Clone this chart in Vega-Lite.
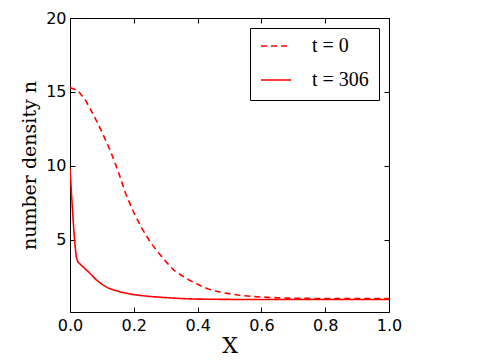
{
  "$schema": "https://vega.github.io/schema/vega-lite/v6.json",
  "autosize": "none",
  "padding": {"left": 70, "top": 18, "right": 91, "bottom": 48},
  "width": 319,
  "height": 294,
  "config": {
    "view": {"stroke": "black", "strokeWidth": 1},
    "axis": {"grid": false, "domain": false, "labelFlush": false, "tickColor": "black", "labelColor": "black", "labelFont": "DejaVu Sans", "labelFontSize": 16, "tickSize": -5, "titleColor": "black", "titleFont": "DejaVu Serif", "titleFontWeight": "normal"}
  },
  "data": {"values": [
    {"x": 0, "n": 15.3, "s": "t = 0"},
    {"x": 0.025, "n": 15.1, "s": "t = 0"},
    {"x": 0.05, "n": 14.4, "s": "t = 0"},
    {"x": 0.075, "n": 13.4, "s": "t = 0"},
    {"x": 0.1, "n": 12.3, "s": "t = 0"},
    {"x": 0.125, "n": 11.1, "s": "t = 0"},
    {"x": 0.15, "n": 9.7, "s": "t = 0"},
    {"x": 0.175, "n": 8.1, "s": "t = 0"},
    {"x": 0.2, "n": 6.85, "s": "t = 0"},
    {"x": 0.225, "n": 5.8, "s": "t = 0"},
    {"x": 0.25, "n": 4.9, "s": "t = 0"},
    {"x": 0.275, "n": 4.2, "s": "t = 0"},
    {"x": 0.3, "n": 3.55, "s": "t = 0"},
    {"x": 0.325, "n": 2.96, "s": "t = 0"},
    {"x": 0.35, "n": 2.6, "s": "t = 0"},
    {"x": 0.375, "n": 2.27, "s": "t = 0"},
    {"x": 0.4, "n": 2.0, "s": "t = 0"},
    {"x": 0.433, "n": 1.68, "s": "t = 0"},
    {"x": 0.475, "n": 1.45, "s": "t = 0"},
    {"x": 0.525, "n": 1.28, "s": "t = 0"},
    {"x": 0.575, "n": 1.17, "s": "t = 0"},
    {"x": 0.65, "n": 1.09, "s": "t = 0"},
    {"x": 0.7, "n": 1.06, "s": "t = 0"},
    {"x": 0.8, "n": 1.04, "s": "t = 0"},
    {"x": 0.9, "n": 1.04, "s": "t = 0"},
    {"x": 1.0, "n": 1.04, "s": "t = 0"},
    {"x": 0, "n": 9.84, "s": "t = 306"},
    {"x": 0.005, "n": 8.0, "s": "t = 306"},
    {"x": 0.01, "n": 6.3, "s": "t = 306"},
    {"x": 0.015, "n": 4.8, "s": "t = 306"},
    {"x": 0.02, "n": 3.8, "s": "t = 306"},
    {"x": 0.025, "n": 3.5, "s": "t = 306"},
    {"x": 0.04, "n": 3.2, "s": "t = 306"},
    {"x": 0.06, "n": 2.8, "s": "t = 306"},
    {"x": 0.08, "n": 2.35, "s": "t = 306"},
    {"x": 0.1, "n": 2.0, "s": "t = 306"},
    {"x": 0.12, "n": 1.75, "s": "t = 306"},
    {"x": 0.14, "n": 1.6, "s": "t = 306"},
    {"x": 0.16, "n": 1.47, "s": "t = 306"},
    {"x": 0.2, "n": 1.3, "s": "t = 306"},
    {"x": 0.25, "n": 1.18, "s": "t = 306"},
    {"x": 0.3, "n": 1.1, "s": "t = 306"},
    {"x": 0.35, "n": 1.04, "s": "t = 306"},
    {"x": 0.4, "n": 1.0, "s": "t = 306"},
    {"x": 0.5, "n": 0.98, "s": "t = 306"},
    {"x": 0.6, "n": 0.97, "s": "t = 306"},
    {"x": 0.8, "n": 0.97, "s": "t = 306"},
    {"x": 1.0, "n": 0.97, "s": "t = 306"}
  ]},
  "layer": [
    {
      "mark": {"type": "line", "color": "red", "strokeWidth": 1.6, "clip": true},
      "encoding": {
        "x": {"field": "x", "type": "quantitative", "scale": {"domain": [0, 1], "nice": false},
          "axis": {"orient": "bottom", "values": [0, 0.2, 0.4, 0.6, 0.8, 1.0], "format": ".1f", "labelPadding": 10, "title": "X", "titleFontSize": 22, "titlePadding": 2}},
        "y": {"field": "n", "type": "quantitative", "scale": {"domain": [0.13, 20], "nice": false, "zero": false},
          "axis": {"orient": "left", "values": [5, 10, 15, 20], "labelPadding": 9, "title": "number density n", "titleFontSize": 19, "titlePadding": 6}},
        "strokeDash": {"field": "s", "type": "nominal",
          "scale": {"domain": ["t = 0", "t = 306"], "range": [[6, 4], [1, 0]]},
          "legend": {"orient": "none", "legendX": 180, "legendY": 10, "title": null, "symbolType": "stroke", "symbolStrokeColor": "red", "symbolStrokeWidth": 1.6, "symbolSize": 900, "clipHeight": 16, "labelFont": "Liberation Serif", "labelFontSize": 20, "labelColor": "black", "labelOffset": 20, "padding": 10, "strokeColor": "black", "fillColor": "white", "rowPadding": 14, "cornerRadius": 0}}
      }
    },
    {
      "mark": {"type": "line", "opacity": 0},
      "encoding": {
        "x": {"field": "x", "type": "quantitative", "axis": {"orient": "top", "values": [0, 0.2, 0.4, 0.6, 0.8, 1.0], "labels": false, "title": null}},
        "y": {"field": "n", "type": "quantitative", "axis": {"orient": "right", "values": [5, 10, 15, 20], "labels": false, "title": null}},
        "detail": {"field": "s"}
      }
    }
  ],
  "resolve": {"axis": {"x": "independent", "y": "independent"}}
}
